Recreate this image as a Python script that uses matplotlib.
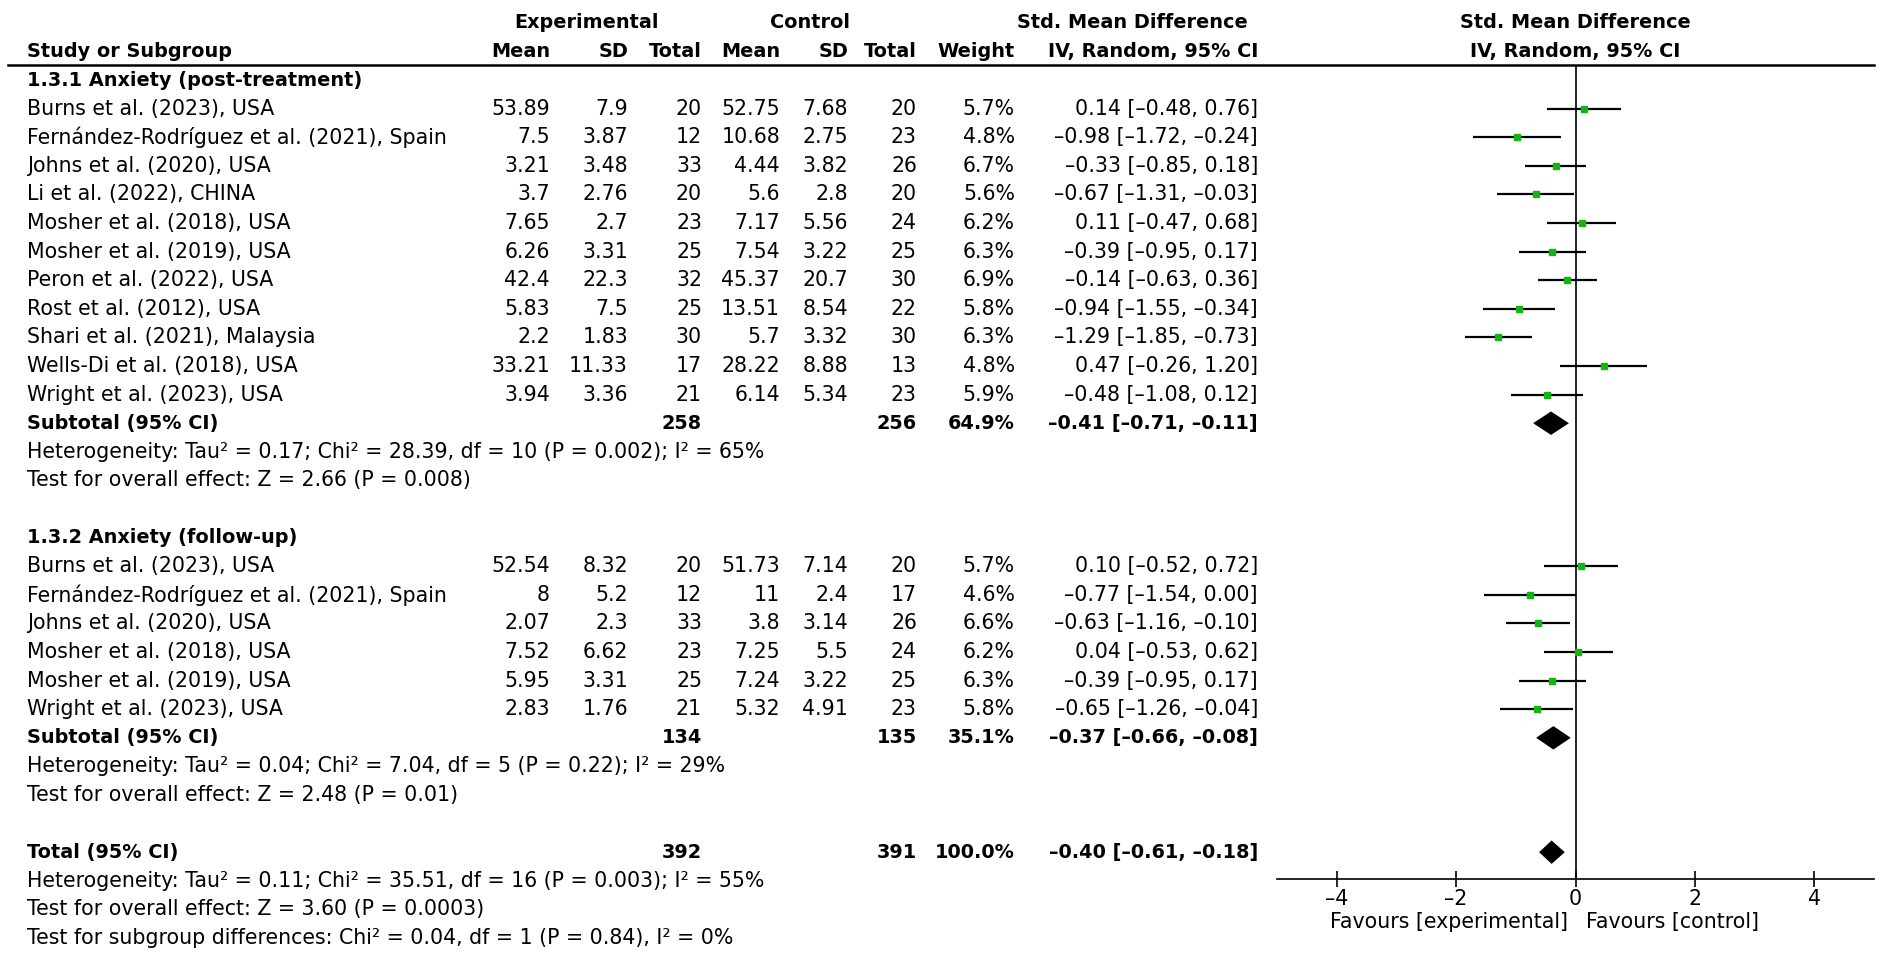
import numpy as np
import matplotlib.pyplot as plt

plt.rcParams['font.family'] = ['DejaVu Sans']
plt.rcParams['font.size'] = 14.8
BOLD_SIZE = 13.9

# ---- data: 1.3.1 Anxiety (post-treatment)
g1_study = ['Burns et al. (2023), USA', 'Fernández-Rodríguez et al. (2021), Spain',
            'Johns et al. (2020), USA', 'Li et al. (2022), CHINA', 'Mosher et al. (2018), USA',
            'Mosher et al. (2019), USA', 'Peron et al. (2022), USA', 'Rost et al. (2012), USA',
            'Shari et al. (2021), Malaysia', 'Wells-Di et al. (2018), USA', 'Wright et al. (2023), USA']
g1_exp_mean = [53.89, 7.5, 3.21, 3.7, 7.65, 6.26, 42.4, 5.83, 2.2, 33.21, 3.94]
g1_exp_sd = [7.9, 3.87, 3.48, 2.76, 2.7, 3.31, 22.3, 7.5, 1.83, 11.33, 3.36]
g1_exp_n = [20, 12, 33, 20, 23, 25, 32, 25, 30, 17, 21]
g1_ctl_mean = [52.75, 10.68, 4.44, 5.6, 7.17, 7.54, 45.37, 13.51, 5.7, 28.22, 6.14]
g1_ctl_sd = [7.68, 2.75, 3.82, 2.8, 5.56, 3.22, 20.7, 8.54, 3.32, 8.88, 5.34]
g1_ctl_n = [20, 23, 26, 20, 24, 25, 30, 22, 30, 13, 23]
g1_weight = [5.7, 4.8, 6.7, 5.6, 6.2, 6.3, 6.9, 5.8, 6.3, 4.8, 5.9]
g1_smd = [0.14, -0.98, -0.33, -0.67, 0.11, -0.39, -0.14, -0.94, -1.29, 0.47, -0.48]
g1_lo = [-0.48, -1.72, -0.85, -1.31, -0.47, -0.95, -0.63, -1.55, -1.85, -0.26, -1.08]
g1_hi = [0.76, -0.24, 0.18, -0.03, 0.68, 0.17, 0.36, -0.34, -0.73, 1.20, 0.12]
g1_sub = dict(exp_n=258, ctl_n=256, weight=64.9, smd=-0.41, lo=-0.71, hi=-0.11)
g1_het = 'Heterogeneity: Tau² = 0.17; Chi² = 28.39, df = 10 (P = 0.002); I² = 65%'
g1_test = 'Test for overall effect: Z = 2.66 (P = 0.008)'

# ---- data: 1.3.2 Anxiety (follow-up)
g2_study = ['Burns et al. (2023), USA', 'Fernández-Rodríguez et al. (2021), Spain',
            'Johns et al. (2020), USA', 'Mosher et al. (2018), USA',
            'Mosher et al. (2019), USA', 'Wright et al. (2023), USA']
g2_exp_mean = [52.54, 8, 2.07, 7.52, 5.95, 2.83]
g2_exp_sd = [8.32, 5.2, 2.3, 6.62, 3.31, 1.76]
g2_exp_n = [20, 12, 33, 23, 25, 21]
g2_ctl_mean = [51.73, 11, 3.8, 7.25, 7.24, 5.32]
g2_ctl_sd = [7.14, 2.4, 3.14, 5.5, 3.22, 4.91]
g2_ctl_n = [20, 17, 26, 24, 25, 23]
g2_weight = [5.7, 4.6, 6.6, 6.2, 6.3, 5.8]
g2_smd = [0.10, -0.77, -0.63, 0.04, -0.39, -0.65]
g2_lo = [-0.52, -1.54, -1.16, -0.53, -0.95, -1.26]
g2_hi = [0.72, 0.00, -0.10, 0.62, 0.17, -0.04]
g2_sub = dict(exp_n=134, ctl_n=135, weight=35.1, smd=-0.37, lo=-0.66, hi=-0.08)
g2_het = 'Heterogeneity: Tau² = 0.04; Chi² = 7.04, df = 5 (P = 0.22); I² = 29%'
g2_test = 'Test for overall effect: Z = 2.48 (P = 0.01)'

total = dict(exp_n=392, ctl_n=391, weight=100.0, smd=-0.40, lo=-0.61, hi=-0.18)
total_notes = ['Heterogeneity: Tau² = 0.11; Chi² = 35.51, df = 16 (P = 0.003); I² = 55%',
               'Test for overall effect: Z = 3.60 (P = 0.0003)',
               'Test for subgroup differences: Chi² = 0.04, df = 1 (P = 0.84), I² = 0%']

ticks = [-4, -2, 0, 2, 4]

# ---- layout (pixels)
W, H = 1902, 964
ROW0, ROWH = 80, 28.6
X_LEFT = 27
COLS = [550, 628, 702, 780, 848, 917, 1015, 1258]   # right edges of numeric columns
PLOT_L, PLOT_R, PLOT_TOP, PLOT_BOT = 1277, 1874, 65, 879
GREEN = '#14b414'
DASH = '\u2013'


def row_of(py):
    return (py - ROW0) / ROWH


def num(v):
    return str(v).replace('-', DASH)


def ci_text(s, lo, hi):
    f = lambda v: f'{v:.2f}'.replace('-', DASH)
    return f'{f(s)} [{f(lo)}, {f(hi)}]'


def btext(x, y, s, **kw):
    ax.text(x, y, s, va='center', weight='bold', fontsize=BOLD_SIZE, **kw)


fig = plt.figure(figsize=(W / 100, H / 100), dpi=100)
ax = fig.add_axes([0, 0, 1, 1])
ax.set_xlim(0, W)
ax.set_ylim(row_of(H), row_of(0))
ax.axis('off')

axf = fig.add_axes([PLOT_L / W, (H - PLOT_BOT) / H, (PLOT_R - PLOT_L) / W, (PLOT_BOT - PLOT_TOP) / H])
axf.set_xlim(-5, 5)
axf.set_ylim(row_of(PLOT_BOT), row_of(PLOT_TOP))
axf.patch.set_alpha(0)
for s in ['left', 'right', 'top']:
    axf.spines[s].set_visible(False)
axf.spines['bottom'].set_linewidth(1.2)
axf.set_yticks([])
axf.set_xticks(ticks)
axf.set_xticklabels([num(t) for t in ticks])
axf.tick_params(axis='x', direction='inout', length=12, width=1.2, pad=1, labelsize=14.8)
axf.axvline(0, color='black', lw=1.2)

# headers
btext(587, -2, 'Experimental', ha='center')
btext(810, -2, 'Control', ha='center')
btext(1248, -2, 'Std. Mean Difference', ha='right')
btext((PLOT_L + PLOT_R) / 2, -2, 'Std. Mean Difference', ha='center')
btext(X_LEFT, -1, 'Study or Subgroup', ha='left')
for x, lab in zip(COLS, ['Mean', 'SD', 'Total', 'Mean', 'SD', 'Total', 'Weight', 'IV, Random, 95% CI']):
    btext(x, -1, lab, ha='right')
btext((PLOT_L + PLOT_R) / 2, -1, 'IV, Random, 95% CI', ha='center')
ax.plot([8, PLOT_R], [row_of(PLOT_TOP)] * 2, color='black', lw=1.8)


def diamond(r, s, lo, hi):
    axf.fill([lo, s, hi, s], [r, r - 0.41, r, r + 0.41], color='black', lw=0, clip_on=False)


def summary_row(r, label, d):
    btext(X_LEFT, r, label, ha='left')
    btext(COLS[2], r, str(d['exp_n']), ha='right')
    btext(COLS[5], r, str(d['ctl_n']), ha='right')
    btext(COLS[6], r, f"{d['weight']:.1f}%", ha='right')
    btext(COLS[7], r, ci_text(d['smd'], d['lo'], d['hi']), ha='right')
    diamond(r, d['smd'], d['lo'], d['hi'])


def group(r0, title, study, em, esd, en, cm, csd, cn, w, smd, lo, hi, sub, het, test):
    btext(X_LEFT, r0, title, ha='left')
    rows = np.arange(len(study)) + r0 + 1
    for i, r in enumerate(rows):
        vals = [num(em[i]), num(esd[i]), str(en[i]), num(cm[i]), num(csd[i]), str(cn[i]),
                f'{w[i]:.1f}%', ci_text(smd[i], lo[i], hi[i])]
        ax.text(X_LEFT, r, study[i], ha='left', va='center')
        for x, v in zip(COLS, vals):
            ax.text(x, r, v, ha='right', va='center')
    axf.hlines(rows, lo, hi, color='black', lw=1.6, clip_on=False)
    for i, r in enumerate(rows):
        axf.plot(smd[i], r, marker='s', ms=4.3 * np.sqrt(w[i] / 6), color=GREEN, mec=GREEN,
                 lw=0, clip_on=False, zorder=3)
    rs = rows[-1] + 1
    summary_row(rs, 'Subtotal (95% CI)', sub)
    ax.text(X_LEFT, rs + 1, het, ha='left', va='center')
    ax.text(X_LEFT, rs + 2, test, ha='left', va='center')
    return rs + 4


r = group(0, '1.3.1 Anxiety (post-treatment)', g1_study, g1_exp_mean, g1_exp_sd, g1_exp_n,
          g1_ctl_mean, g1_ctl_sd, g1_ctl_n, g1_weight, g1_smd, g1_lo, g1_hi, g1_sub, g1_het, g1_test)
r = group(r, '1.3.2 Anxiety (follow-up)', g2_study, g2_exp_mean, g2_exp_sd, g2_exp_n,
          g2_ctl_mean, g2_ctl_sd, g2_ctl_n, g2_weight, g2_smd, g2_lo, g2_hi, g2_sub, g2_het, g2_test)
summary_row(r, 'Total (95% CI)', total)
for k, note in enumerate(total_notes):
    ax.text(X_LEFT, r + 1 + k, note, ha='left', va='center')

axf.annotate('Favours [experimental]', xy=(0, 0), xycoords=('data', 'axes fraction'),
             xytext=(-8, -43), textcoords='offset pixels', ha='right', va='center')
axf.annotate('Favours [control]', xy=(0, 0), xycoords=('data', 'axes fraction'),
             xytext=(10, -43), textcoords='offset pixels', ha='left', va='center')

fig.savefig('out.png', dpi=100)
